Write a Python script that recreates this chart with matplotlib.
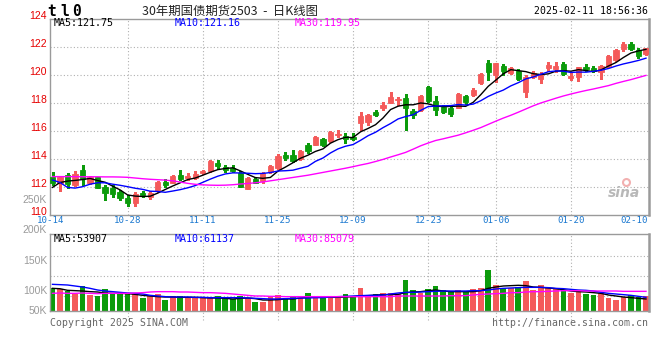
"""Sina-style daily K-line chart: 30Y treasury futures T2503 with volume panel."""

import matplotlib
import matplotlib.pyplot as plt
import matplotlib.transforms as mtransforms
import numpy as np

matplotlib.use("Agg")

# ---- data ----
dates = ["10-14", "10-28", "11-11", "11-25", "12-09", "12-23", "01-06", "01-20", "02-10"]
date_idx = [0, 10, 20, 30, 40, 50, 59, 69, 78]

open_ = np.array([
    112.67, 112.24, 112.83, 112.12, 113.19, 112.24, 112.67, 112.00, 111.88, 111.64,
    111.22, 110.86, 111.55, 111.24, 111.69, 112.36, 112.29, 112.83, 112.60, 112.60,
    112.98, 113.15, 113.67, 113.43, 113.36, 113.00, 111.86, 112.55, 112.38, 113.07,
    113.31, 114.24, 114.26, 113.95, 114.98, 114.98, 115.41, 115.26, 115.67, 115.64,
    115.57, 116.53, 116.65, 117.36, 117.62, 118.00, 118.19, 118.31, 117.41, 117.48,
    119.15, 118.12, 117.72, 117.60, 117.65, 118.48, 118.55, 119.38, 120.81, 119.98,
    120.62, 120.10, 120.26, 118.74, 119.86, 119.67, 120.45, 120.38, 120.74, 119.74,
    119.86, 120.57, 120.50, 120.22, 120.62, 121.05, 121.84, 122.19, 121.76, 121.45])
high = np.array([
    113.07, 112.76, 112.95, 113.14, 113.55, 112.76, 112.72, 112.12, 112.12, 111.76,
    111.40, 111.64, 111.72, 111.67, 112.43, 112.52, 112.83, 113.19, 112.95, 113.10,
    113.20, 113.90, 113.90, 113.53, 113.53, 113.10, 112.67, 112.67, 113.07, 113.55,
    114.31, 114.50, 114.62, 114.62, 115.10, 115.64, 115.48, 115.96, 116.05, 115.86,
    115.86, 117.36, 117.20, 117.48, 118.07, 118.79, 118.38, 118.62, 117.53, 118.55,
    119.20, 118.48, 117.84, 117.72, 118.67, 118.55, 119.03, 120.10, 121.05, 120.86,
    120.74, 120.57, 120.38, 119.98, 120.26, 120.17, 120.88, 120.88, 120.88, 120.10,
    120.57, 120.74, 120.62, 120.67, 121.41, 121.81, 122.31, 122.36, 121.88, 121.93])
low = np.array([
    112.12, 111.72, 111.88, 112.08, 112.12, 112.20, 111.90, 111.05, 111.29, 111.05,
    110.64, 110.62, 111.24, 111.10, 111.64, 112.00, 112.24, 112.48, 112.48, 112.55,
    112.90, 113.07, 113.24, 113.07, 113.03, 111.95, 111.81, 112.24, 112.29, 113.00,
    113.24, 113.90, 113.79, 113.90, 114.38, 114.95, 114.93, 115.21, 115.57, 115.10,
    115.33, 116.05, 116.41, 117.05, 117.48, 117.95, 117.84, 116.05, 116.88, 117.43,
    118.07, 117.12, 117.24, 117.05, 117.60, 117.90, 118.48, 119.31, 119.62, 119.50,
    119.98, 120.03, 119.60, 118.43, 119.74, 119.43, 120.26, 120.17, 119.98, 119.60,
    119.57, 120.26, 120.17, 119.67, 120.57, 121.00, 121.69, 121.76, 121.22, 121.40])
close = np.array([
    112.24, 112.67, 112.19, 112.90, 112.53, 112.67, 111.93, 111.57, 111.48, 111.22,
    110.86, 111.50, 111.43, 111.57, 112.36, 112.12, 112.76, 112.57, 112.76, 112.90,
    113.10, 113.84, 113.48, 113.19, 113.15, 112.00, 112.60, 112.29, 112.95, 113.48,
    114.22, 114.07, 113.84, 114.55, 114.55, 115.57, 114.98, 115.91, 115.80, 115.41,
    115.43, 117.05, 117.12, 117.12, 117.84, 118.43, 118.26, 117.60, 117.12, 118.48,
    118.14, 117.48, 117.36, 117.19, 118.62, 118.07, 118.91, 120.05, 120.22, 120.81,
    120.29, 120.45, 119.67, 119.86, 120.10, 119.98, 120.69, 120.64, 120.03, 119.93,
    120.52, 120.38, 120.26, 120.62, 121.34, 121.76, 122.19, 121.84, 121.36, 121.88])

ma5 = [
    111.95, 112.30, 112.40, 112.45, 112.51, 112.59, 112.44, 112.32, 112.04, 111.77,
    111.41, 111.33, 111.30, 111.32, 111.54, 111.80, 112.05, 112.28, 112.51, 112.62,
    112.82, 113.03, 113.22, 113.30, 113.35, 113.13, 112.88, 112.65, 112.60, 112.66,
    113.11, 113.40, 113.71, 114.03, 114.25, 114.52, 114.70, 115.11, 115.36, 115.53,
    115.51, 115.92, 116.16, 116.43, 116.91, 117.51, 117.75, 117.85, 117.85, 117.98,
    117.92, 117.76, 117.72, 117.73, 117.76, 117.74, 118.03, 118.57, 119.17, 119.61,
    120.06, 120.36, 120.29, 120.22, 120.07, 120.01, 120.06, 120.25, 120.29, 120.25,
    120.36, 120.30, 120.22, 120.34, 120.62, 120.87, 121.23, 121.55, 121.70, 121.81]
ma10 = [
    112.48, 112.30, 111.95, 111.90, 112.00, 112.18, 112.28, 112.28, 112.18, 112.10,
    112.00, 111.89, 111.81, 111.68, 111.66, 111.60, 111.69, 111.79, 111.92, 112.08,
    112.31, 112.54, 112.75, 112.91, 112.99, 112.98, 112.96, 112.93, 112.95, 113.01,
    113.12, 113.14, 113.18, 113.32, 113.46, 113.81, 114.05, 114.41, 114.70, 114.89,
    115.01, 115.31, 115.64, 115.89, 116.22, 116.51, 116.84, 117.01, 117.14, 117.45,
    117.72, 117.76, 117.78, 117.79, 117.87, 117.83, 117.90, 118.14, 118.45, 118.69,
    118.90, 119.20, 119.43, 119.70, 119.84, 120.03, 120.21, 120.27, 120.25, 120.16,
    120.19, 120.18, 120.24, 120.32, 120.44, 120.62, 120.77, 120.89, 121.02, 121.18]
ma30 = [
    112.72, 112.72, 112.72, 112.72, 112.71, 112.71, 112.71, 112.70, 112.70, 112.69,
    112.67, 112.62, 112.57, 112.53, 112.50, 112.47, 112.42, 112.33, 112.24, 112.17,
    112.13, 112.11, 112.10, 112.11, 112.14, 112.19, 112.23, 112.28, 112.34, 112.42,
    112.50, 112.58, 112.66, 112.74, 112.82, 112.92, 113.02, 113.12, 113.22, 113.32,
    113.43, 113.55, 113.66, 113.80, 113.95, 114.12, 114.28, 114.45, 114.68, 114.92,
    115.12, 115.30, 115.42, 115.55, 115.68, 115.85, 116.03, 116.22, 116.45, 116.68,
    116.90, 117.10, 117.32, 117.55, 117.78, 117.98, 118.15, 118.32, 118.48, 118.62,
    118.75, 118.87, 118.98, 119.10, 119.22, 119.38, 119.52, 119.65, 119.80, 119.95]

volume = [
    102700, 95300, 89500, 74800, 110000, 70400, 66000, 96800, 77700, 74800,
    77700, 74800, 58700, 66000, 74800, 48400, 66000, 66000, 58700, 58700,
    55700, 63100, 66000, 55700, 52800, 66000, 55700, 41000, 38100, 66000,
    70400, 58700, 66000, 55700, 79200, 66000, 66000, 58700, 58700, 74800,
    66000, 102700, 70400, 73300, 79200, 79200, 74800, 136400, 92400, 77700,
    96800, 110000, 92400, 85100, 92400, 85100, 96800, 102700, 180400, 114400,
    102700, 102700, 107000, 132000, 92400, 114400, 99700, 102700, 92400, 77700,
    88000, 74800, 70400, 77700, 58700, 48400, 63100, 70400, 63100, 66000]
vol_ma5 = [
    99700, 98000, 91000, 89500, 88000, 85100, 83600, 79200, 77700, 77700,
    76300, 73300, 68900, 66000, 63100, 61600, 61600, 60100, 60100, 60100,
    58700, 57200, 57200, 55700, 52800, 55700, 57200, 54300, 48400, 48400,
    49900, 52800, 52800, 57200, 60100, 61600, 61600, 60100, 60100, 61600,
    63100, 66000, 67500, 70400, 71900, 71900, 73300, 80700, 83600, 85100,
    89500, 92400, 88000, 85100, 85100, 85100, 85100, 89500, 99700, 105600,
    110000, 111500, 113000, 111500, 105600, 104100, 101200, 98300, 93900, 88000,
    85100, 83600, 80700, 77700, 70400, 66000, 61600, 58700, 55700, 52800]
vol_ma10 = [
    117300, 115900, 114400, 110000, 105600, 99700, 92400, 88000, 85100, 82100,
    79200, 77700, 74800, 68900, 66000, 63100, 61600, 61600, 61600, 60100,
    60100, 58700, 58700, 58700, 58700, 58700, 57200, 55700, 54300, 52800,
    52800, 54300, 55700, 57200, 57200, 58700, 58700, 61600, 63100, 64500,
    66000, 67500, 68900, 68900, 70400, 74800, 79200, 82100, 82100, 83600,
    85100, 86500, 88000, 88000, 88000, 88000, 89500, 89500, 92400, 96800,
    99700, 101200, 102700, 104100, 104100, 104100, 102700, 99700, 98300, 95300,
    92400, 91000, 88000, 82100, 77700, 74800, 71900, 68900, 64500, 60100]
vol_ma30 = [
    77700, 79200, 77700, 77700, 79200, 77700, 76300, 77700, 77700, 77700,
    77700, 79200, 80700, 83600, 85100, 85100, 85100, 83600, 83600, 82100,
    80700, 80700, 79200, 77700, 74800, 71900, 68900, 66000, 66000, 64500,
    64500, 63100, 63100, 63100, 63100, 63100, 63100, 63100, 63100, 63100,
    63100, 63100, 63100, 63100, 63100, 63100, 66000, 66000, 66000, 66000,
    66000, 66000, 66000, 67500, 67500, 67500, 70400, 73300, 74800, 76300,
    77700, 80700, 80700, 83600, 85100, 85100, 86500, 88000, 89500, 89500,
    89500, 88000, 88000, 88000, 88000, 88000, 86500, 86500, 86500, 86500]

price_ticks = [110, 112, 114, 116, 118, 120, 122, 124]
vol_labels = ["250K", "200K", "150K", "100K", "50K"]
header_price = ["MA5:121.75", "MA10:121.16", "MA30:119.95"]
header_vol = ["MA5:53907", "MA10:61137", "MA30:85079"]

# ---- style ----
W, H = 660, 360
RED = "#f45a5a"
GREEN = "#0b9b0b"
GRID = "#b0b0b0"
FRAME = "#9a9a9a"
MONO = "DejaVu Sans Mono"
MA_COLORS = ["black", "#0000ff", "#ff00ff"]
DOTS = (0, (1, 2))


def fx(px):
    return px / W


def fy(py):
    return 1 - py / H


def frame(ax):
    for s in ax.spines.values():
        s.set_color(FRAME)
        s.set_linewidth(1)
    ax.spines["right"].set_linewidth(1.8)
    ax.set_xticks([])
    ax.set_yticks([])
    ax.set_xlim(-0.333, 79.4)


fig = plt.figure(figsize=(6.6, 3.6), dpi=100)
fig.patch.set_facecolor("white")

x = np.arange(len(close))
colors = np.where(close >= open_, RED, GREEN)

# ---- price panel ----
ax_p = fig.add_axes([fx(50), fy(214.7), fx(599), (214.7 - 18.7) / H])
frame(ax_p)
ax_p.set_ylim(110, 124)
for v in price_ticks[1:-1]:
    ax_p.axhline(v, color=GRID, lw=0.8, ls=DOTS, zorder=0)
for i in date_idx[1:-1]:
    ax_p.axvline(i, color=GRID, lw=0.8, ls=DOTS, zorder=0)

ax_p.vlines(x, low, high, colors=colors, linewidth=1, zorder=2, antialiased=False)
ax_p.bar(x, close - open_, bottom=open_, width=0.7, color=colors,
         edgecolor=colors, linewidth=0.6, zorder=3)
for ma, c in zip([ma5, ma10, ma30], MA_COLORS):
    ax_p.plot(x, ma, color=c, lw=1.0, zorder=4)

lab_tr = mtransforms.offset_copy(
    mtransforms.blended_transform_factory(ax_p.transAxes, ax_p.transData),
    fig=fig, y=2.7, units="dots")
for v in price_ticks:
    ax_p.text(-0.005, v, str(v), transform=lab_tr, ha="right", va="center",
              color="#e60000", family="Liberation Sans", size=7.5, clip_on=False)

date_tr = mtransforms.blended_transform_factory(ax_p.transData, ax_p.transAxes)
for i, d in zip(date_idx, dates):
    if i == 0:
        xpos, ha = -0.2, "center"
    elif i == date_idx[-1]:
        xpos, ha = 79.3, "right"
    else:
        xpos, ha = i, "center"
    ax_p.text(xpos, -0.03, d, transform=date_tr, ha=ha, va="center",
              color="#1a78d0", family=MONO, size=6.6, clip_on=False)

# sina watermark
ax_p.text(0.985, 0.11, "sina", transform=ax_p.transAxes, ha="right", va="center",
          color="#b8b8b8", style="italic", weight="bold", size=10, zorder=1)
ax_p.plot([0.962], [0.165], transform=ax_p.transAxes, marker="o", ms=5,
          mfc="none", mec="#f2b0b0", mew=1.5, zorder=1)

# ---- volume panel ----
VOL_TOP = 337500
ax_v = fig.add_axes([fx(50), fy(311), fx(599), (311 - 234.3) / H])
frame(ax_v)
ax_v.set_ylim(0, VOL_TOP)
for f in [0.717, 0.456, 0.196]:
    ax_v.plot([0, 1], [f, f], transform=ax_v.transAxes, color=GRID, lw=0.8,
              ls=DOTS, zorder=0)
vtr = mtransforms.blended_transform_factory(ax_v.transData, ax_v.transAxes)
for i in date_idx[1:-1]:
    ax_v.plot([i, i], [-0.117, 1], transform=vtr, color=GRID, lw=0.8, ls=DOTS,
              zorder=0, clip_on=False)
ax_v.bar(x, volume, width=0.76, color=colors, linewidth=0, zorder=2)
for ma, c in zip([vol_ma5, vol_ma10, vol_ma30], MA_COLORS):
    ax_v.plot(x, ma, color=c, lw=1.0, zorder=3)

for lab, py in zip(vol_labels, [200, 230, 260.5, 291, 311]):
    fig.text(fx(47), fy(py), lab, ha="right", va="center", color="#9a9a9a",
             family="Liberation Sans", size=7.5)

# ---- header texts ----
for txt, px, c in zip(header_price, [54, 175, 295], MA_COLORS):
    fig.text(fx(px), fy(23.5), txt, ha="left", va="center", color=c,
             family=MONO, size=7.2)
for txt, px, c in zip(header_vol, [54, 175, 295], MA_COLORS):
    fig.text(fx(px), fy(238.5), txt, ha="left", va="center", color=c,
             family=MONO, size=7.2)

for ch, px in zip("tl0", [52, 64.5, 76.5]):
    fig.text(fx(px), fy(11.5), ch, ha="center", va="center", color="black",
             family=MONO, weight="bold", size=10.5)
fig.text(fx(230), fy(11), "30年期国债期货2503  -  日K线图", ha="center", va="center",
         color="#222222", family=["Noto Sans CJK SC", "DejaVu Sans"], size=8.9)
fig.text(fx(648), fy(11.5), "2025-02-11 18:56:36", ha="right", va="center",
         color="black", family=MONO, size=7.1)
fig.text(fx(50), fy(323.5), "Copyright 2025 SINA.COM", ha="left", va="center",
         color="#666666", family=MONO, size=7.1)
fig.text(fx(648), fy(323.5), "http://finance.sina.com.cn", ha="right", va="center",
         color="#666666", family=MONO, size=7.1)

fig.savefig("out.png", dpi=100)
plt.close(fig)
